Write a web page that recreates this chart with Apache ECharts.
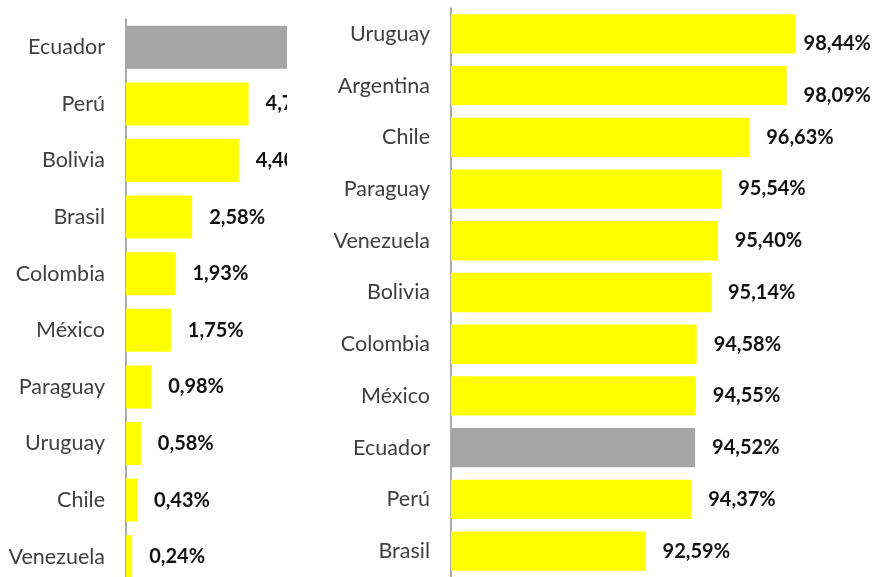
<!DOCTYPE html>
<html>
<head>
<meta charset="utf-8">
<script src="https://cdn.jsdelivr.net/npm/echarts@6/dist/echarts.min.js"></script>
<style>
html,body{margin:0;padding:0;background:#fff;width:872px;height:577px;overflow:hidden;}
#leftWrap{position:absolute;left:0;top:0;width:287px;height:577px;overflow:hidden;}
#left{position:absolute;left:0;top:0;width:420px;height:600px;}
#right{position:absolute;left:287px;top:0;width:585px;height:577px;}
</style>
</head>
<body>
<div id="leftWrap"><div id="left"></div></div>
<div id="right"></div>
<script>
// Left panel (sorted as shown, top to bottom)
var leftCategories = ['Ecuador','Perú','Bolivia','Brasil','Colombia','México','Paraguay','Uruguay','Chile','Venezuela'];
var leftValues = [6.90, 4.78, 4.40, 2.58, 1.93, 1.75, 0.98, 0.58, 0.43, 0.24];
// Right panel
var rightCategories = ['Uruguay','Argentina','Chile','Paraguay','Venezuela','Bolivia','Colombia','México','Ecuador','Perú','Brasil'];
var rightValues = [98.44, 98.09, 96.63, 95.54, 95.40, 95.14, 94.58, 94.55, 94.52, 94.37, 92.59];
var highlightCategory = 'Ecuador';

var YELLOW = '#FFFF00', GRAY = '#A5A5A5';
var FONT = 'Lato';

function fmt(v){ return v.toFixed(2).replace('.', ',') + '%'; }

function buildData(cats, vals){
  return vals.map(function(v, i){
    return { value: v, itemStyle: { color: cats[i] === highlightCategory ? GRAY : YELLOW } };
  });
}

function makeOption(cats, vals, grid, xmin, xmax, chartRef){
  return {
    animation: false,
    grid: grid,
    xAxis: { type: 'value', min: xmin, max: xmax, show: false },
    yAxis: {
      type: 'category', data: cats, inverse: true,
      axisLine: { show: true, lineStyle: { color: '#8f8f8f', width: 1.5 } },
      axisTick: { show: false },
      axisLabel: { color: '#404040', fontFamily: FONT, fontSize: 21.5, margin: 21 }
    },
    series: [{
      type: 'bar',
      data: buildData(cats, vals),
      barCategoryGap: '24%',
      clip: true,
      label: {
        show: true, position: 'right', distance: 17,
        fontFamily: FONT, fontSize: 20, fontWeight: 'bold', color: '#111',
        formatter: function(p){ return fmt(p.value); }
      },
      labelLayout: chartRef ? function(p){
        var r = p.labelRect;
        var W = chartRef.getWidth() - 1;
        if (r.x + r.width > W) { return { x: W - r.width }; }
        return {};
      } : undefined
    }]
  };
}

var leftChart = echarts.init(document.getElementById('left'), null, {renderer: 'canvas'});
leftChart.setOption(makeOption(leftCategories, leftValues,
  { left: 126, top: 19, width: 256.4, height: 566, containLabel: false }, 0, 10, null));

var rightChart = echarts.init(document.getElementById('right'), null, {renderer: 'canvas'});
rightChart.setOption(makeOption(rightCategories, rightValues,
  { left: 164, top: 8, width: 384.6, height: 569, containLabel: false }, 85, 100, rightChart));
</script>
</body>
</html>
